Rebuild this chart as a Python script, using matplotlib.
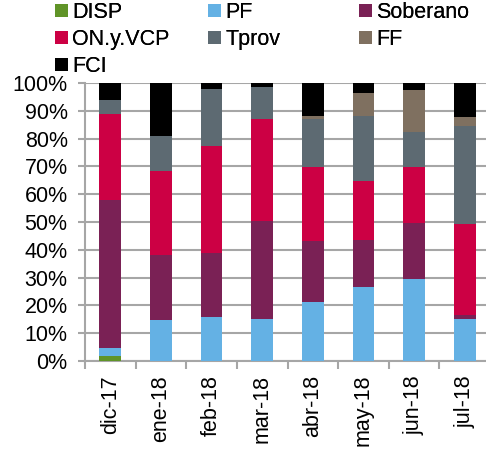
import numpy as np
import matplotlib
matplotlib.use('Agg')
import matplotlib.pyplot as plt

plt.rcParams['font.family'] = ['Liberation Sans', 'DejaVu Sans']

meses = ['dic-17', 'ene-18', 'feb-18', 'mar-18', 'abr-18', 'may-18', 'jun-18', 'jul-18']

# participacion (%) por instrumento
disp = [1.8, 0, 0, 0, 0, 0, 0, 0]
pf = [2.8, 14.6, 15.7, 15.2, 21.2, 26.7, 29.5, 15.0]
soberano = [53.2, 23.4, 23.2, 35.3, 21.9, 16.7, 20.2, 1.4]
on_vcp = [31.2, 30.5, 38.5, 36.4, 26.8, 21.3, 20.0, 32.8]
tprov = [5.0, 12.5, 20.6, 11.5, 17.2, 23.6, 12.8, 35.5]
ff = [0, 0, 0, 0, 1.0, 8.1, 14.9, 3.1]
fci = [6.0, 19.0, 2.0, 1.6, 11.9, 3.6, 2.6, 12.2]

series = [('DISP', disp, '#609428'), ('PF', pf, '#64b1e4'),
          ('Soberano', soberano, '#7a2155'), ('ON.y.VCP', on_vcp, '#cc0044'),
          ('Tprov', tprov, '#5d6a72'), ('FF', ff, '#7f7060'),
          ('FCI', fci, '#000000')]

fs = 15.5

fig = plt.figure(figsize=(4.86, 4.49), dpi=100)
ax = fig.add_axes([85/486, 88/449, 405/486, 278/449])

x = np.arange(len(meses))
base = np.zeros(len(meses))
handles = {}
for name, vals, col in series:
    vals = np.array(vals) / 100.0
    b = ax.bar(x, vals, 0.43, bottom=base, color=col, label=name, zorder=3)
    handles[name] = b
    base += vals

ax.set_ylim(0, 1)
ax.set_xlim(-0.5, len(meses) - 0.5)
ax.set_yticks(np.arange(0, 1.01, 0.1))
ax.set_yticklabels(['%d%%' % v for v in range(0, 101, 10)])
ax.yaxis.grid(True, color='#a6a6a6', linewidth=1.5, zorder=0)
ax.set_xticks(x)
ax.set_xticklabels(meses, rotation=90)
ax.set_xticks(np.arange(-0.5, len(meses), 1.0), minor=True)
ax.tick_params(axis='x', which='major', length=0, pad=10)
ax.tick_params(axis='x', which='minor', length=6, width=1.5, color='#a6a6a6')
ax.tick_params(axis='y', length=5, width=1.5, color='#a6a6a6', pad=7.5)
ax.tick_params(labelsize=fs)
for s in ['top', 'right']:
    ax.spines[s].set_visible(False)
for s in ['left', 'bottom']:
    ax.spines[s].set_color('#a6a6a6')
    ax.spines[s].set_linewidth(1.5)

# leyenda en tres columnas
cols = [['DISP', 'ON.y.VCP', 'FCI'], ['PF', 'Tprov'], ['Soberano', 'FF']]
xpos = [55, 208, 359]
for names, xp in zip(cols, xpos):
    leg = fig.legend([handles[n] for n in names], names,
                     loc='upper left', bbox_to_anchor=(xp/486, 1 - 2/449),
                     frameon=False, fontsize=fs, handlelength=0.6,
                     handleheight=0.6, handletextpad=0.2, labelspacing=0.28,
                     borderpad=0, borderaxespad=0)
    fig.add_artist(leg)

fig.savefig('out.png', dpi=100)
